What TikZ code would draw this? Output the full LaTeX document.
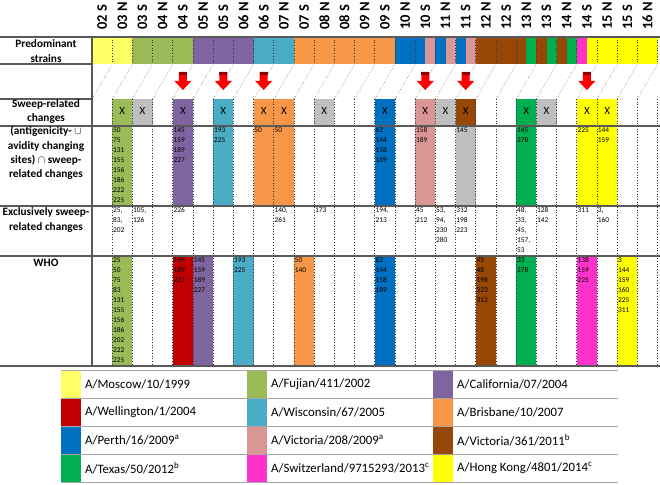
\documentclass[tikz,border=0pt]{standalone}
\usepackage{fontspec}
\setmainfont{Carlito}
\usetikzlibrary{positioning}
\definecolor{moscow}{HTML}{FFFF66}
\definecolor{fujian}{HTML}{9BBB59}
\definecolor{calif}{HTML}{8064A2}
\definecolor{wellington}{HTML}{C00000}
\definecolor{wisc}{HTML}{4BACC6}
\definecolor{brisb}{HTML}{F79646}
\definecolor{perth}{HTML}{0070C0}
\definecolor{victa}{HTML}{DA9694}
\definecolor{victb}{HTML}{974706}
\definecolor{texas}{HTML}{00B050}
\definecolor{switz}{HTML}{FF33CC}
\definecolor{hongkong}{HTML}{FFFF00}
\definecolor{sweepgrey}{HTML}{BFBFBF}
\definecolor{arrowtop}{HTML}{8B0000}
\definecolor{rulegrey}{HTML}{595959}
\definecolor{leggrey}{HTML}{A6A6A6}

\begin{document}
\begin{tikzpicture}[x=1pt, y=-1pt]
\tikzstyle{hdr}=[rotate=90, anchor=west, inner sep=0pt, font=\fontsize{14.5}{14}\selectfont\bfseries]
\tikzstyle{rowlab}=[align=center, inner sep=0pt, font=\fontsize{11.3}{14.3}\selectfont\bfseries]
\tikzstyle{nums}=[anchor=north west, align=left, inner sep=0.6pt, font=\fontsize{7.4}{10}\selectfont]
\tikzstyle{xmark}=[inner sep=0pt, font=\fontsize{11}{11}\selectfont]
\tikzstyle{colgrid}=[dotted, black!80, line width=0.7pt]
\tikzstyle{diag}=[dotted, black!50, line width=0.7pt]
\tikzstyle{rule}=[rulegrey, line width=1.2pt]
\tikzstyle{legtxt}=[anchor=west, inner sep=0pt, font=\fontsize{12.8}{14}\selectfont]
\useasboundingbox (0,0) rectangle (660,484);
\def\cw{20.2}
\def\xo{92}

% column headers
\foreach \lab [count=\i from 0] in {02 S,03 N,03 S,04 N,04 S,05 N,05 S,06 N,06 S,07 N,07 S,08 N,08 S,09 N,09 S,10 N,10 S,11 N,11 S,12 N,12 S,13 N,13 S,14 N,14 S,15 N,15 S,16 N}
  \node[hdr] (h\i) at ({\xo+(\i+0.5)*\cw},30) {\lab};

% predominant strains (half-column steps)
\foreach \a/\b/\f in {0/4/moscow,4/10/fujian,10/16/calif,16/20/wisc,20/30/brisb,30/33/perth,33/34/victa,34/35/perth,35/36/victa,36/37/perth,37/38/victa,38/43/victb,43/44/texas,44/45/victb,45/46/texas,46/47/victb,47/48/texas,48/49/switz,49/56/hongkong}
  \fill[\f] ({\xo+\a*\cw/2},37) rectangle ({\xo+\b*\cw/2},64);

% diagonal hatching
\foreach \i in {0,...,27}
  \draw[diag] ({\xo+\i*\cw},99) -- ({\xo+(\i+1)*\cw},64);

% red arrows
\foreach \k in {4,6,8,16,18,24} {
  \pgfmathsetmacro\xc{\xo+(\k+0.5)*\cw}
  \fill[red] (\xc-4,72) -- (\xc+4,72) -- (\xc+4,81) -- (\xc+8.5,81) -- (\xc,90) -- (\xc-8.5,81) -- (\xc-4,81) -- cycle;
  \fill[arrowtop] (\xc-4,72) rectangle (\xc+4,75);
}

% sweep-related changes
\foreach \k/\f in {1/fujian,2/sweepgrey,4/calif,6/wisc,8/brisb,9/brisb,11/sweepgrey,14/perth,16/victa,17/sweepgrey,18/victb,21/texas,22/sweepgrey,24/hongkong,25/hongkong} {
  \fill[\f] ({\xo+\k*\cw},99.5) rectangle ++(\cw,26.5);
  \node[xmark] (sw\k) at ({\xo+(\k+0.5)*\cw},110.5) {X};
}

% (antigenicity u avidity) n sweep
\foreach \k/\f/\txt in {1/fujian/{50\\75\\131\\155\\156\\186\\222\\225},4/calif/{145\\159\\189\\227},6/wisc/{193\\225},8/brisb/{50},9/brisb/{50},14/perth/{62\\144\\158\\189},16/victa/{158\\189},18/sweepgrey/{145},21/texas/{145\\278},24/hongkong/{225},25/hongkong/{144\\159}} {
  \fill[\f] ({\xo+\k*\cw},126) rectangle ++(\cw,80);
  \node[nums] (int\k) at ({\xo+\k*\cw},126.5) {\txt};
}

% exclusively sweep-related
\foreach \k/\txt in {1/{25,\\83,\\202},2/{105,\\126},4/{226},9/{140,\\261},11/{173},14/{194,\\213},16/{45\\212},17/{53,\\94,\\230\\280},18/{312\\198\\223},21/{48,\\33,\\45,\\157,\\53},22/{128\\142},24/{311},25/{3,\\160}}
  \node[nums] (exc\k) at ({\xo+\k*\cw},206.5) {\txt};

% WHO
\foreach \k/\f/\txt in {1/fujian/{25\\50\\75\\83\\131\\155\\156\\186\\202\\222\\225},4/wellington/{159\\189\\227},5/calif/{145\\159\\189\\227},7/wisc/{193\\225},10/brisb/{50\\140},14/perth/{62\\144\\158\\189},19/victb/{45\\48\\198\\223\\312},21/texas/{33\\278},24/switz/{138\\159\\225},26/hongkong/{3\\144\\159\\160\\225\\311}} {
  \fill[\f] ({\xo+\k*\cw},256) rectangle ++(\cw,110);
  \node[nums] (who\k) at ({\xo+\k*\cw},256.5) {\txt};
}

% grid
\foreach \i in {1,...,28} {
  \draw[colgrid] ({\xo+\i*\cw},37) -- ({\xo+\i*\cw},64);
  \draw[colgrid] ({\xo+\i*\cw},99) -- ({\xo+\i*\cw},366);
}
\foreach \y in {37,126,206,256,366}
  \draw[rule] (0,\y) -- (660,\y);
\foreach \y in {64,99}
  \draw[rule] (0,\y) -- (\xo,\y);
\draw[rule] (\xo,37) -- (\xo,366);

% row labels
\node[rowlab] (lpred) at (46,51) {Predominant\\strains};
\node[rowlab] (lsweep) at (46,111.5) {Sweep-related\\changes};
\node[rowlab] (lint) at (46,153) {(antigenicity- $\cup$\\avidity changing\\sites) $\cap$ sweep-\\related changes};
\node[rowlab] (lexc) at (46,220) {Exclusively sweep-\\related changes};
\node[rowlab] (lwho) at (46,263) {WHO};

% legend
\foreach \y in {370,398,426,454,482}
  \draw[leggrey, line width=0.8pt] (61,\y) -- (618,\y);
\foreach \r/\xs/\f/\txt in {0/61/moscow/{A/Moscow/10/1999},0/247/fujian/{A/Fujian/411/2002},0/433/calif/{A/California/07/2004},
  1/61/wellington/{A/Wellington/1/2004},1/247/wisc/{A/Wisconsin/67/2005},1/433/brisb/{A/Brisbane/10/2007},
  2/61/perth/{A/Perth/16/2009\textsuperscript{a}},2/247/victa/{A/Victoria/208/2009\textsuperscript{a}},2/433/victb/{A/Victoria/361/2011\textsuperscript{b}},
  3/61/texas/{A/Texas/50/2012\textsuperscript{b}},3/247/switz/{A/Switzerland/9715293/2013\textsuperscript{c}},3/433/hongkong/{A/Hong Kong/4801/2014\textsuperscript{c}}} {
  \fill[\f] (\xs,{370.5+28*\r}) rectangle ++(20,27);
  \node[legtxt] (leg\r x\xs) at (\xs+24,{384+28*\r}) {\txt};
}
\end{tikzpicture}
\end{document}
